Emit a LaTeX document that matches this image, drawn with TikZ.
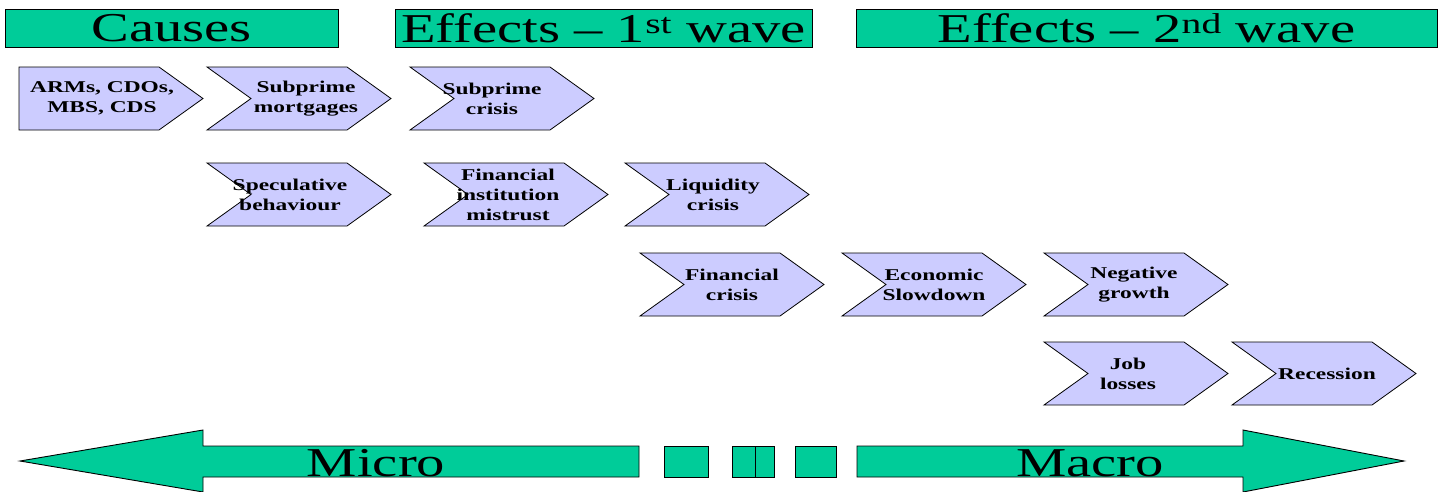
\documentclass[tikz,border=0pt]{standalone}
\usepackage{fontspec}
\setmainfont{Liberation Serif}[FakeStretch=1.38]
\newfontfamily\chevfont{Liberation Serif}[FakeStretch=1.42]
\definecolor{banner}{RGB}{0,204,153}
\definecolor{lilac}{RGB}{204,204,255}
\tikzset{
  header/.style    = {draw, fill=banner, line width=0.9pt, minimum height=38pt, inner sep=0pt,
                      font=\fontsize{41}{41}\selectfont},
  stagebox/.style  = {draw, fill=lilac, line width=0.8pt, line join=miter},
  stagetext/.style = {inner sep=0pt, align=center, font=\chevfont\bfseries\fontsize{16.5}{20}\selectfont},
  band/.style      = {draw, fill=banner, line width=0.9pt},
  scalelabel/.style = {anchor=base, inner sep=0pt, font=\fontsize{41}{41}\selectfont}
}
% chevron: notch depth, name, centre x, centre y, text shift, text
\newcommand\stage[6]{%
  \draw[stagebox] (#3-92,#4-31.5) -- ++(140,0) -- ++(44,31.5) -- ++(-44,31.5)
    -- ++(-140,0) -- ++(#1,-31.5) -- cycle;
  \node[stagetext] (#2) at (#3+#5,#4) {#6};
}

\begin{document}
\begin{tikzpicture}[x=1pt, y=-1pt]
  \useasboundingbox (0,0) rectangle (1441,491);

  % column headers
  \node[header, minimum width=333pt] (causes) at (171.5,28) {Causes};
  \node[header, minimum width=417pt] (wave1) at (603.5,28) {Effects – 1\textsuperscript{st} wave};
  \node[header, minimum width=581pt] (wave2) at (1146.5,28) {Effects – 2\textsuperscript{nd} wave};

  % chain of events
  \stage{0}{arms}{111}{98.5}{-9}{ARMs, CDOs,\\MBS, CDS}
  \stage{44}{mortgages}{299}{98.5}{7}{Subprime\\mortgages}
  \stage{44}{subcrisis}{502}{98.5}{-10}{Subprime\\crisis}

  \stage{44}{speculative}{299}{194.5}{-9}{Speculative\\behaviour}
  \stage{44}{mistrust}{516}{194.5}{-8}{Financial\\institution\\mistrust}
  \stage{44}{liquidity}{717}{194.5}{-4}{Liquidity\\crisis}

  \stage{44}{fincrisis}{732}{284.5}{0}{Financial\\crisis}
  \stage{44}{slowdown}{934}{284.5}{0}{Economic\\Slowdown}
  \stage{44}{neggrowth}{1136}{284.5}{-2}{Negative\\growth}

  \stage{44}{joblosses}{1136}{373.5}{-8}{Job\\losses}
  \stage{44}{recession}{1324}{373.5}{3}{Recession}

  % micro / macro scale
  \draw[band] (20,461) -- (203,430) -- (203,446) -- (639,446) -- (639,477)
    -- (203,477) -- (203,492) -- cycle;
  \draw[band] (664,446) rectangle (708,477);
  \draw[band] (732,446) rectangle (755,477);
  \draw[band] (755,446) rectangle (774,477);
  \draw[band] (795,446) rectangle (836,477);
  \draw[band] (857,446) -- (1243,446) -- (1243,430) -- (1404,461) -- (1243,492)
    -- (1243,477) -- (857,477) -- cycle;
  \node[scalelabel] (micro) at (376,476) {Micro};
  \node[scalelabel] (macro) at (1090,476) {Macro};
\end{tikzpicture}
\end{document}
